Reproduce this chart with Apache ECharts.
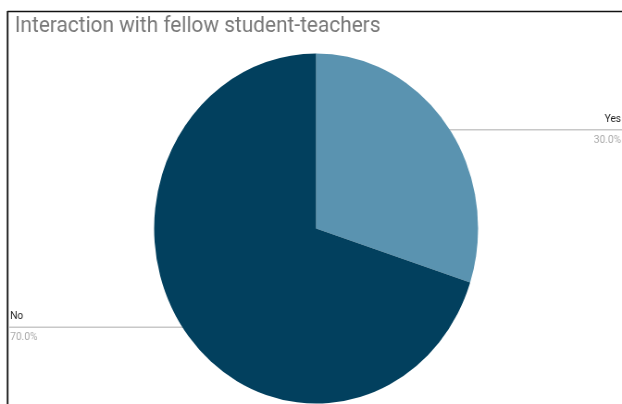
<!DOCTYPE html>
<html>
<head>
<meta charset="utf-8">
<script src="https://cdn.jsdelivr.net/npm/echarts@6/dist/echarts.min.js"></script>
<style>
html,body{margin:0;padding:0;background:#fff;overflow:hidden;width:622px;height:404px;}
#c{width:672px;height:404px;transform:scaleX(0.9256);transform-origin:0 0;}
</style>
</head>
<body>
<div id="c"></div>
<script>
const titleText = 'Interaction with fellow student-teachers';
const categories = ['Yes', 'No'];
const values = [30, 70];
const colors = ['#5a93b0', '#02405e'];

const chart = echarts.init(document.getElementById('c'), null, {renderer: 'canvas'});
const W = 672;
const CX = 341.5, CY = 228.5, R = 175;
const total = values.reduce((a, b) => a + b, 0);
// anchor points of the leader lines, along each slice's mid angle (clockwise from top)
const anchors = [];
let acc = 0;
values.forEach(v => {
  const mid = (acc + v / 2) / total * 2 * Math.PI;
  acc += v;
  anchors.push([CX + Math.sin(mid) * R * 0.96, CY - Math.cos(mid) * R * 0.96]);
});

chart.setOption({
  animation: false,
  title: {
    text: titleText, left: 11, top: 10,
    textStyle: {fontFamily: 'Roboto, Arial, sans-serif', fontSize: 22.5, fontWeight: 'normal', color: '#787878'}
  },
  graphic: [
    {type: 'line', shape: {x1: 8, y1: 11.5, x2: W, y2: 11.5}, style: {stroke: '#111', lineWidth: 1.6}},
    {type: 'line', shape: {x1: 8.2, y1: 11, x2: 8.2, y2: 404}, style: {stroke: '#111', lineWidth: 1.8}}
  ],
  series: [{
    type: 'pie',
    center: [CX, CY],
    radius: [0, R],
    startAngle: 90,
    clockwise: true,
    data: categories.map((c, i) => ({name: c, value: values[i], itemStyle: {color: colors[i]}})),
    emphasis: {disabled: true},
    label: {
      show: true,
      formatter: p => '{n|' + p.name + '}\n{p|' + p.percent.toFixed(1) + '%}',
      rich: {
        n: {fontFamily: 'Roboto, Arial, sans-serif', fontSize: 11, color: '#222', lineHeight: 21},
        p: {fontFamily: 'Roboto, Arial, sans-serif', fontSize: 11, color: '#aaa', lineHeight: 21}
      }
    },
    labelLine: {show: true, lineStyle: {color: '#c8c8c8', width: 1.6}},
    labelLayout: function (params) {
      const i = params.dataIndex;
      const a = anchors[i];
      const right = a[0] > CX;
      const ex = right ? W : 10;
      return {
        x: right ? W - 1 : 11,
        y: a[1],
        align: right ? 'right' : 'left',
        verticalAlign: 'middle',
        labelLinePoints: [[a[0], a[1]], [(a[0] + ex) / 2, a[1]], [ex, a[1]]]
      };
    }
  }]
});
</script>
</body>
</html>
